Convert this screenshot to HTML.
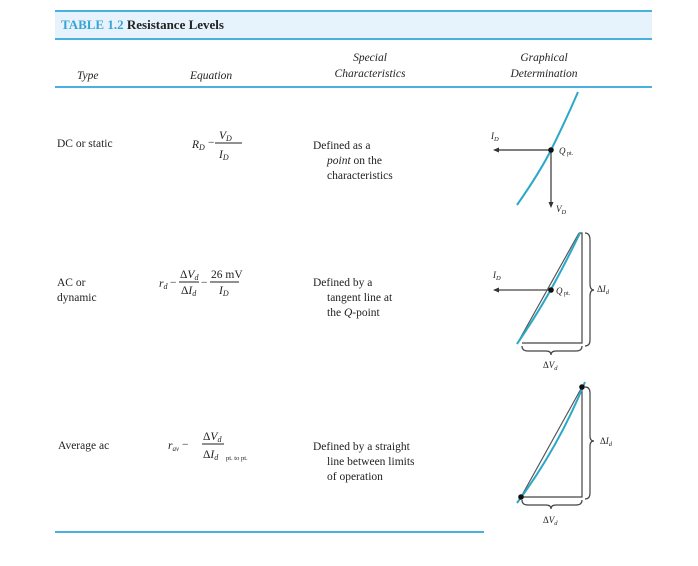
<!DOCTYPE html>
<html><head><meta charset="utf-8"><style>
html,body{margin:0;padding:0;background:#fff;}
svg{display:block;}
text{font-family:"Liberation Serif",serif;fill:#222;}
.s{font-size:11.5px;}
.i{font-style:italic;}
</style></head><body>
<svg width="698" height="566" viewBox="0 0 698 566" xmlns="http://www.w3.org/2000/svg">
<rect x="55" y="11" width="597" height="28" fill="#e6f3fc"/>
<line x1="55" y1="11" x2="652" y2="11" stroke="#4ab0de" stroke-width="2"/>
<line x1="55" y1="39" x2="652" y2="39" stroke="#4ab0de" stroke-width="2"/>
<line x1="55" y1="87" x2="652" y2="87" stroke="#4ab0de" stroke-width="2"/>
<line x1="55" y1="532" x2="484" y2="532" stroke="#4ab0de" stroke-width="2"/>
<text x="61" y="29" font-size="13" font-weight="bold"><tspan fill="#3aa3d6">TABLE 1.2</tspan> Resistance Levels</text>
<g class="s i" font-size="12">
<text x="77" y="79">Type</text>
<text x="190" y="79">Equation</text>
<text x="370" y="61" text-anchor="middle">Special</text>
<text x="370" y="77" text-anchor="middle">Characteristics</text>
<text x="544" y="61" text-anchor="middle">Graphical</text>
<text x="544" y="77" text-anchor="middle">Determination</text>
</g>
<text class="s" x="57" y="147">DC or static</text>
<text class="s" x="57" y="286">AC or</text>
<text class="s" x="57" y="301">dynamic</text>
<text class="s" x="58" y="449">Average ac</text>
<text class="s i" x="192" y="148">R<tspan font-size="8" dy="2">D</tspan></text>
<text class="s" x="208" y="146">−</text>
<text class="s i" x="219" y="139">V<tspan font-size="8" dy="2">D</tspan></text>
<line x1="215" y1="143" x2="242" y2="143" stroke="#222"/>
<text class="s i" x="219" y="158">I<tspan font-size="8" dy="2">D</tspan></text>

<text class="s i" x="159" y="287">r<tspan font-size="8" dy="2">d</tspan></text>
<text class="s" x="170" y="286">−</text>
<text class="s" x="180" y="278">Δ<tspan font-style="italic">V</tspan><tspan font-size="8" dy="2" font-style="italic">d</tspan></text>
<line x1="179" y1="282" x2="199" y2="282" stroke="#222"/>
<text class="s" x="181" y="294">Δ<tspan font-style="italic">I</tspan><tspan font-size="8" dy="2" font-style="italic">d</tspan></text>
<text class="s" x="201" y="286">−</text>
<text class="s" x="211" y="278">26 mV</text>
<line x1="210" y1="282" x2="239" y2="282" stroke="#222"/>
<text class="s i" x="219" y="294">I<tspan font-size="8" dy="2">D</tspan></text>

<text class="s i" x="168" y="449">r<tspan font-size="7" dy="2">av</tspan></text>
<text class="s" x="182" y="448">−</text>
<text class="s" x="203" y="440">Δ<tspan font-style="italic">V</tspan><tspan font-size="8" dy="2" font-style="italic">d</tspan></text>
<line x1="202" y1="444" x2="224" y2="444" stroke="#222"/>
<text class="s" x="203" y="458">Δ<tspan font-style="italic">I</tspan><tspan font-size="8" dy="2" font-style="italic">d</tspan></text>
<text x="226" y="460" font-size="6.5">pt. to pt.</text>
<text class="s" x="313" y="149">Defined as a</text>
<text class="s" x="327" y="164"><tspan font-style="italic">point</tspan> on the</text>
<text class="s" x="327" y="179">characteristics</text>
<text class="s" x="313" y="286">Defined by a</text>
<text class="s" x="327" y="301">tangent line at</text>
<text class="s" x="327" y="316">the <tspan font-style="italic">Q</tspan>-point</text>
<text class="s" x="313" y="450">Defined by a straight</text>
<text class="s" x="327" y="465">line between limits</text>
<text class="s" x="327" y="480">of operation</text>
<g stroke="#333" stroke-width="1.2" fill="none">
<line x1="551" y1="150" x2="497" y2="150"/>
<line x1="551" y1="150" x2="551" y2="203"/>
</g>
<polygon points="493,150 499,147.5 499,152.5" fill="#333"/>
<polygon points="551,208 548.5,202 553.5,202" fill="#333"/>
<path d="M517,205 Q540,172 551,150 Q566,120 578,92" stroke="#2aa8c8" stroke-width="2" fill="none"/>
<circle cx="551" cy="150" r="2.8" fill="#111"/>
<text class="i" x="491" y="139" font-size="9">I<tspan font-size="6.5" dy="2">D</tspan></text>
<text class="i" x="559" y="154" font-size="9">Q<tspan font-size="6" dy="1" font-style="normal"> pt.</tspan></text>
<text class="i" x="556" y="212" font-size="9">V<tspan font-size="6.5" dy="2">D</tspan></text>
<g stroke="#444" stroke-width="1.2" fill="none">
<line x1="551" y1="290" x2="497" y2="290"/>
<polyline points="579,233 582,233 582,343 522,343"/>
<path d="M585,233 Q590,233 590,240 L590,284 Q590,290 594,290 Q590,290 590,296 L590,340 Q590,346 585,346"/>
<path d="M522,346 Q522,351 528,351 L546,351 Q551,351 551,355 Q551,351 556,351 L576,351 Q582,351 582,346"/>
<line x1="517" y1="344" x2="579" y2="233" stroke="#555"/>
</g>
<polygon points="493,290 499,287.5 499,292.5" fill="#333"/>
<path d="M517,344 Q540,310 555,282 Q568,258 580,233" stroke="#2aa8c8" stroke-width="2" fill="none"/>
<circle cx="551" cy="290" r="2.8" fill="#111"/>
<text class="i" x="493" y="278" font-size="9">I<tspan font-size="6.5" dy="2">D</tspan></text>
<text class="i" x="556" y="294" font-size="9">Q<tspan font-size="6" dy="1" font-style="normal"> pt.</tspan></text>
<text x="597" y="292" font-size="9">Δ<tspan font-style="italic">I</tspan><tspan font-size="6.5" dy="2" font-style="italic">d</tspan></text>
<text x="543" y="368" font-size="9">Δ<tspan font-style="italic">V</tspan><tspan font-size="6.5" dy="2" font-style="italic">d</tspan></text>
<g stroke="#444" stroke-width="1.2" fill="none">
<polyline points="582,387 582,497 521,497"/>
<line x1="521" y1="497" x2="582" y2="387" stroke="#555"/>
<path d="M585,387 Q590,387 590,393 L590,436 Q590,441 594,441 Q590,441 590,446 L590,493 Q590,499 585,499"/>
<path d="M522,500 Q522,505 528,505 L546,505 Q551,505 551,509 Q551,505 556,505 L576,505 Q582,505 582,500"/>
</g>
<path d="M517,503 Q558,448 585,382" stroke="#2aa8c8" stroke-width="2" fill="none"/>
<circle cx="582" cy="387" r="2.8" fill="#111"/>
<circle cx="521" cy="497" r="2.8" fill="#111"/>
<text x="600" y="444" font-size="9">Δ<tspan font-style="italic">I</tspan><tspan font-size="6.5" dy="2" font-style="italic">d</tspan></text>
<text x="543" y="523" font-size="9">Δ<tspan font-style="italic">V</tspan><tspan font-size="6.5" dy="2" font-style="italic">d</tspan></text>
</svg>
</body></html>
